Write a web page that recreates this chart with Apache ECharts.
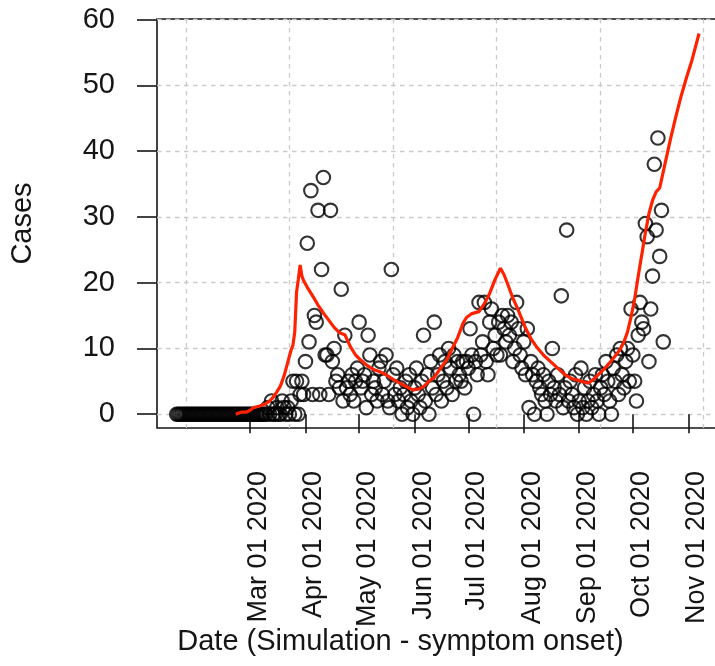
<!DOCTYPE html>
<html>
<head>
<meta charset="utf-8">
<script src="https://cdn.jsdelivr.net/npm/echarts@6/dist/echarts.min.js"></script>
<style>
  html, body { margin: 0; padding: 0; background: #fff; }
  #chart { width: 715px; height: 666px; }
</style>
</head>
<body>
<div id="chart"></div>
<script>
// Daily simulated case counts by symptom-onset date, starting on FIRST_CASE_DAY
const FIRST_CASE_DAY = '2020-01-20';
const dailyCases = [
  // Jan 20 - Mar 8
  0, 0, 0, 0, 0, 0, 0, 0, 0, 0, 0, 0, 0, 0, 0, 0, 0, 0, 0, 0,
  0, 0, 0, 0, 0, 0, 0, 0, 0, 0, 0, 0, 0, 0, 0, 0, 0, 0, 0, 0,
  0, 0, 0, 0, 0, 0, 0, 0, 0,
  // Mar 9 - Mar 31
  0, 0, 1, 0, 2, 0, 0, 1, 0, 0, 2, 1, 0, 1, 0, 2, 5, 0, 5, 0, 3, 5, 3,
  // Apr
  8, 26, 11, 34, 3, 15, 14, 31, 3, 22, 36, 9, 9, 3, 31, 8, 10, 5, 6, 4,
  19, 2, 12, 4, 5, 3, 6, 2, 5, 7,
  // May
  14, 4, 5, 6, 1, 12, 9, 3, 5, 4, 2, 7, 8, 3, 5, 9, 2, 1, 22, 6,
  3, 7, 2, 4, 0, 3, 5, 1, 6, 2, 0,
  // Jun
  4, 7, 3, 1, 5, 12, 2, 6, 0, 8, 4, 14, 3, 6, 9, 2, 5, 8, 4, 10,
  7, 3, 9, 5, 8, 6, 5, 8, 4, 8,
  // Jul
  7, 13, 9, 0, 8, 6, 17, 9, 11, 17, 8, 6, 14, 16, 10, 12, 9, 14, 9, 15,
  13, 11, 15, 12, 14, 8, 10, 17, 13, 9, 7,
  // Aug
  11, 6, 13, 1, 8, 6, 0, 5, 7, 4, 3, 6, 2, 0, 5, 3, 10, 4, 2, 6,
  3, 18, 1, 4, 28, 2, 5, 3, 1, 6, 0,
  // Sep
  2, 7, 1, 4, 0, 2, 5, 1, 3, 6, 2, 0, 4, 6, 3, 8, 5, 2, 0, 7,
  5, 9, 3, 10, 6, 4, 8, 10, 5, 16,
  // Oct
  9, 5, 2, 12, 17, 14, 13, 29, 27, 8, 16, 21, 38, 28, 42, 24, 31, 11
];

// Fitted simulation curve
const fitDates = [
  '2020-02-22', '2020-02-25', '2020-02-28', '2020-03-01', '2020-03-03', '2020-03-06',
  '2020-03-09', '2020-03-12', '2020-03-14', '2020-03-16', '2020-03-18', '2020-03-20',
  '2020-03-22', '2020-03-24', '2020-03-25', '2020-03-26', '2020-03-27', '2020-03-28',
  '2020-03-29', '2020-03-30', '2020-03-31', '2020-04-02', '2020-04-05', '2020-04-08',
  '2020-04-11', '2020-04-14', '2020-04-17', '2020-04-20', '2020-04-23', '2020-04-26',
  '2020-04-29', '2020-05-02', '2020-05-05', '2020-05-09', '2020-05-13', '2020-05-16',
  '2020-05-20', '2020-05-24', '2020-05-28', '2020-05-31', '2020-06-03', '2020-06-06',
  '2020-06-09', '2020-06-12', '2020-06-15', '2020-06-19', '2020-06-22', '2020-06-25',
  '2020-06-28', '2020-06-30', '2020-07-03', '2020-07-07', '2020-07-10', '2020-07-13',
  '2020-07-16', '2020-07-19', '2020-07-21', '2020-07-23', '2020-07-26', '2020-07-29',
  '2020-08-02', '2020-08-05', '2020-08-08', '2020-08-12', '2020-08-16', '2020-08-20',
  '2020-08-24', '2020-08-28', '2020-09-01', '2020-09-06', '2020-09-09', '2020-09-12',
  '2020-09-15', '2020-09-18', '2020-09-21', '2020-09-24', '2020-09-26', '2020-09-28',
  '2020-09-30', '2020-10-02', '2020-10-04', '2020-10-06', '2020-10-08', '2020-10-10',
  '2020-10-12', '2020-10-14', '2020-10-15', '2020-10-16', '2020-10-19', '2020-10-22',
  '2020-10-25', '2020-10-28', '2020-10-31', '2020-11-03', '2020-11-07'
];
const fitValues = [
  0.0, 0.3, 0.3, 0.6, 1.0, 1.2,
  1.5, 2.0, 2.6, 3.4, 4.3, 5.8,
  7.8, 9.8, 10.5, 12.5, 18.5, 20.5,
  22.7, 21.0, 20.3, 19.3, 18.0, 16.6,
  15.4, 14.3, 13.2, 12.4, 12.1, 10.3,
  9.0, 8.2, 7.5, 6.8, 6.4, 6.0,
  5.3, 4.7, 4.1, 3.7, 3.8, 4.2,
  5.0, 5.6, 6.8, 8.3, 10.0, 11.6,
  13.8, 14.7, 15.3, 15.6, 16.8, 18.4,
  20.5, 22.2, 21.2, 19.8, 17.6, 15.8,
  13.1, 11.5, 10.3, 9.0, 8.0, 7.0,
  6.0, 5.4, 5.1, 4.7, 5.3, 6.1,
  6.9, 7.8, 8.8, 9.9, 11.0, 12.5,
  14.8, 17.5, 21.0, 24.3, 27.6, 30.5,
  32.5, 33.8, 34.1, 34.4, 38.1, 41.8,
  45.2, 48.4, 51.2, 53.8, 57.9
];

// Axis set-up
const monthTicks = [
  '2020-03-01', '2020-04-01', '2020-05-01', '2020-06-01', '2020-07-01',
  '2020-08-01', '2020-09-01', '2020-10-01', '2020-11-01'
];
const gridTicks = [
  '2020-01-25T04:48', '2020-03-23T01:00', '2020-05-19T21:07',
  '2020-07-16T17:17', '2020-09-12T13:26', '2020-11-09T09:36'
];
const xRange = ['2020-01-09T00:00', '2020-11-27T02:24'];
const yTicks = [0, 10, 20, 30, 40, 50, 60];
const yRange = [-2.1, 60.1];

const MONTHS = ['Jan', 'Feb', 'Mar', 'Apr', 'May', 'Jun', 'Jul', 'Aug', 'Sep', 'Oct', 'Nov', 'Dec'];
const DAY = 86400000;

function utc(s) {
  return Date.parse(s.length === 10 ? s + 'T00:00:00Z' : s + ':00Z');
}
function fmtDate(v) {
  const d = new Date(v);
  const dd = String(d.getUTCDate()).padStart(2, '0');
  return MONTHS[d.getUTCMonth()] + ' ' + dd + ' ' + d.getUTCFullYear();
}

const t0 = utc(FIRST_CASE_DAY);
const caseData = dailyCases.map((v, i) => [t0 + i * DAY, v]);
const fitData = fitDates.map((d, i) => [utc(d), fitValues[i]]);

const FONT = "'Liberation Sans', Arial, Helvetica, sans-serif";
const INK = '#151515';
const gridLine = { show: true, lineStyle: { color: '#c9c9c9', width: 1.3, type: [4.5, 4.5] } };

const chart = echarts.init(document.getElementById('chart'), null, { renderer: 'canvas' });
chart.setOption({
  animation: false,
  backgroundColor: '#ffffff',
  textStyle: { fontFamily: FONT },
  grid: {
    left: 157, top: 19, bottom: 238, right: -20,
    containLabel: false,
    outerBoundsMode: 'none',
    show: true, borderColor: INK, borderWidth: 1.6, backgroundColor: 'transparent'
  },
  xAxis: [
    {
      type: 'value',
      min: utc(xRange[0]), max: utc(xRange[1]),
      axisLine: { show: false },
      axisTick: {
        show: true, inside: false, length: 19,
        customValues: monthTicks.map(utc),
        lineStyle: { color: INK, width: 1.6 }
      },
      axisLabel: {
        show: true, rotate: 90, margin: 43,
        customValues: monthTicks.map(utc),
        fontSize: 27, color: INK, fontFamily: FONT,
        lineHeight: 17,
        // leading blank line nudges each rotated label to the right of its tick
        formatter: (v) => '\n' + fmtDate(v)
      },
      splitLine: { show: false },
      name: 'Date (Simulation - symptom onset)',
      nameLocation: 'middle',
      nameGap: 199,
      nameMoveOverlap: false,
      nameTextStyle: { fontSize: 29, color: INK, fontFamily: FONT, padding: [0, 91, 0, 0] }
    },
    {
      type: 'value',
      min: utc(xRange[0]), max: utc(xRange[1]),
      position: 'bottom',
      axisLine: { show: false },
      axisTick: { show: false, customValues: gridTicks.map(utc) },
      axisLabel: { show: false },
      splitLine: gridLine
    }
  ],
  yAxis: {
    type: 'value',
    min: yRange[0], max: yRange[1],
    axisLine: { show: false },
    axisTick: {
      show: true, inside: false, length: 20,
      customValues: yTicks,
      lineStyle: { color: INK, width: 1.6 }
    },
    axisLabel: {
      show: true, margin: 42,
      customValues: yTicks,
      fontSize: 29, color: INK, fontFamily: FONT
    },
    splitLine: gridLine,
    name: 'Cases',
    nameLocation: 'middle',
    nameRotate: 90,
    nameGap: 120,
    nameMoveOverlap: false,
    nameTextStyle: { fontSize: 29, color: INK, fontFamily: FONT }
  },
  series: [
    {
      type: 'scatter',
      xAxisIndex: 0,
      data: caseData,
      symbol: 'circle',
      symbolSize: 13.5,
      itemStyle: { color: 'rgba(0,0,0,0)', borderColor: '#000', borderWidth: 2.1 },
      silent: true,
      z: 2
    },
    {
      type: 'line',
      xAxisIndex: 0,
      data: fitData,
      showSymbol: false,
      lineStyle: { color: '#ff2200', width: 3.2 },
      silent: true,
      z: 3
    }
  ]
});
</script>
</body>
</html>
